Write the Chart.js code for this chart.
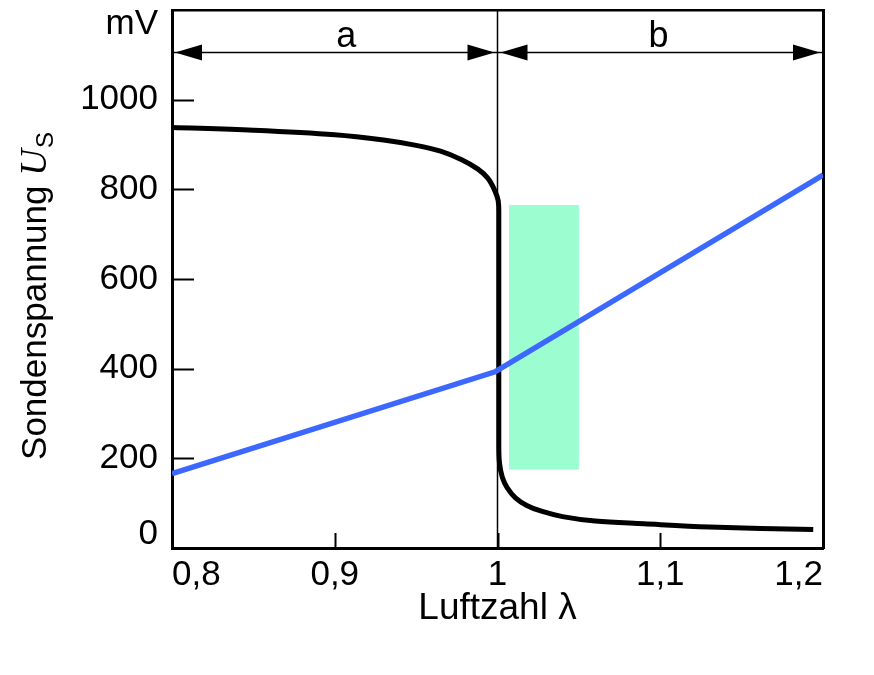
<!DOCTYPE html>
<html lang="de">
<head>
    <meta charset="utf-8" />
    <title>Lambda-Sonde</title>
    <style>
        html, body { margin: 0; padding: 0; background: #fff; }
        #chartBox { width: 874px; height: 675px; }
    </style>
</head>
<body>
    <div id="chartBox">
        <canvas id="lambdaChart" width="874" height="675"></canvas>
    </div>
    <script src="https://cdn.jsdelivr.net/npm/chart.js"></script>
    <script>
        // Luftzahl lambda (x) and Sondenspannung in mV (y)
        var sprungX = [0.8, 0.85, 0.9, 0.93, 0.95, 0.965, 0.978, 0.988, 0.994, 0.998, 1.0004, 1.0008, 1.0008, 1.0012, 1.003, 1.006, 1.011, 1.018, 1.027, 1.04, 1.06, 1.09, 1.13, 1.194];
        var sprungY = [938, 932, 922, 910, 898, 885, 866, 845, 825, 800, 775, 740, 230, 190, 157, 134, 112, 95, 82, 70, 60, 54, 47, 41];

        var planarX = [0.8, 0.9985, 1.2];
        var planarY = [166, 393, 832];

        // green band and the a/b ranges
        var bandX = [1.007, 1.05];
        var bandY = [175, 765];
        var rangeA = [0.8, 1.0];
        var rangeB = [1.0, 1.2];
        var rangeLevel = 1105;
        var rangeLabels = ['a', 'b'];
        var rangeLabelX = [0.907, 1.099];

        var xTicks = [0.8, 0.9, 1.0, 1.1, 1.2];
        var xTickLabels = ['0,8', '0,9', '1', '1,1', '1,2'];
        var yTicks = [0, 200, 400, 600, 800, 1000, 1200];
        var yTickLabels = ['0', '200', '400', '600', '800', '1000', 'mV'];

        function pts(xs, ys) {
            return xs.map(function (x, i) { return { x: x, y: ys[i] }; });
        }

        var sans = "'Liberation Sans', Arial, sans-serif";
        var tickFont = { family: sans, size: 35, lineHeight: '28px' };

        // inward tick marks, arrows, range letters, y title
        var decorPlugin = {
            id: 'decor',
            afterDatasetsDraw: function (chart) {
                var ctx = chart.ctx;
                var xs = chart.scales.x, ys = chart.scales.y;
                var area = chart.chartArea;
                ctx.save();
                ctx.strokeStyle = '#000';
                ctx.lineWidth = 2;
                yTicks.slice(1, -1).forEach(function (v) {
                    var py = Math.round(ys.getPixelForValue(v)) + 0.5;
                    ctx.beginPath();
                    ctx.moveTo(area.left, py);
                    ctx.lineTo(area.left + 22, py);
                    ctx.stroke();
                });
                xTicks.slice(1, -1).forEach(function (v) {
                    var px = Math.round(xs.getPixelForValue(v)) + 0.5;
                    ctx.beginPath();
                    ctx.moveTo(px, area.bottom);
                    ctx.lineTo(px, area.bottom - 15);
                    ctx.stroke();
                });

                // arrow heads
                var ay = ys.getPixelForValue(rangeLevel);
                function head(tipX, dir) {
                    ctx.beginPath();
                    ctx.moveTo(tipX, ay);
                    ctx.lineTo(tipX - dir * 27, ay - 8);
                    ctx.lineTo(tipX - dir * 27, ay + 8);
                    ctx.closePath();
                    ctx.fill();
                }
                ctx.fillStyle = '#000';
                [rangeA, rangeB].forEach(function (r) {
                    head(xs.getPixelForValue(r[0]) + 3, -1);
                    head(xs.getPixelForValue(r[1]) - 3, 1);
                });

                ctx.font = '36px ' + sans;
                ctx.textAlign = 'center';
                ctx.textBaseline = 'alphabetic';
                rangeLabels.forEach(function (t, i) {
                    ctx.fillText(t, xs.getPixelForValue(rangeLabelX[i]), ay - 6);
                });

                // y axis title with italic U and subscript S
                var mainFont = '35px ' + sans;
                var uFont = "italic 37px 'Liberation Serif', 'Times New Roman', serif";
                var subFont = '24px ' + sans;
                ctx.font = mainFont;
                var w1 = ctx.measureText('Sondenspannung ').width;
                ctx.font = uFont;
                var w2 = ctx.measureText('U').width;
                ctx.font = subFont;
                var w3 = ctx.measureText('S').width;
                var total = w1 + w2 + w3 + 1;
                ctx.translate(46, 296);
                ctx.rotate(-Math.PI / 2);
                ctx.textAlign = 'left';
                var sx = -total / 2;
                ctx.font = mainFont;
                ctx.fillText('Sondenspannung ', sx, 0);
                ctx.font = uFont;
                ctx.fillText('U', sx + w1, 0);
                ctx.font = subFont;
                ctx.fillText('S', sx + w1 + w2 + 1, 7);
                ctx.restore();
            }
        };

        function noEdgePad(s) {
            s.paddingLeft = 0;
            s.paddingRight = 0;
            s.paddingTop = 0;
            s.paddingBottom = 0;
        }

        var ctx = document.getElementById('lambdaChart').getContext('2d');
        var chart = new Chart(ctx, {
            type: 'scatter',
            data: {
                datasets: [
                    {
                        label: 'Band oben',
                        data: pts(bandX, [bandY[1], bandY[1]]),
                        showLine: true,
                        borderWidth: 0,
                        borderColor: 'rgba(0,0,0,0)',
                        backgroundColor: '#9bfdd0',
                        pointRadius: 0,
                        fill: '+1',
                        order: 5
                    },
                    {
                        label: 'Band unten',
                        data: pts(bandX, [bandY[0], bandY[0]]),
                        showLine: true,
                        borderWidth: 0,
                        borderColor: 'rgba(0,0,0,0)',
                        pointRadius: 0,
                        fill: false,
                        order: 5
                    },
                    {
                        label: 'lambda = 1',
                        data: [{ x: 1, y: 0 }, { x: 1, y: 1200 }],
                        showLine: true,
                        borderColor: '#000',
                        borderWidth: 1.5,
                        pointRadius: 0,
                        order: 4
                    },
                    {
                        label: 'Bereich',
                        data: [{ x: rangeA[0], y: rangeLevel }, { x: rangeB[1], y: rangeLevel }],
                        showLine: true,
                        borderColor: '#000',
                        borderWidth: 1.5,
                        pointRadius: 0,
                        order: 4
                    },
                    {
                        label: 'Sprungsonde',
                        data: pts(sprungX, sprungY),
                        showLine: true,
                        borderColor: '#000',
                        borderWidth: 5,
                        tension: 0.35,
                        pointRadius: 0,
                        order: 2
                    },
                    {
                        label: 'Planarsonde',
                        data: pts(planarX, planarY),
                        showLine: true,
                        borderColor: '#3d68ff',
                        borderWidth: 5.5,
                        pointRadius: 0,
                        order: 1
                    }
                ]
            },
            options: {
                responsive: false,
                animation: false,
                devicePixelRatio: 1,
                layout: { padding: 0 },
                plugins: {
                    legend: { display: false },
                    tooltip: { enabled: false }
                },
                scales: {
                    x: {
                        type: 'linear',
                        position: 'bottom',
                        min: 0.8,
                        max: 1.2,
                        afterBuildTicks: function (s) { s.ticks = xTicks.map(function (v) { return { value: v }; }); },
                        afterFit: function (s) { s.height = 127; noEdgePad(s); },
                        grid: { drawOnChartArea: false, drawTicks: false },
                        border: { display: true, color: '#000', width: 3 },
                        ticks: {
                            autoSkip: false,
                            maxRotation: 0,
                            padding: 13,
                            color: '#000',
                            font: tickFont,
                            callback: function (v, i) {
                                var t = xTickLabels[i];
                                if (i === 0) return '     ' + t;
                                if (i === xTickLabels.length - 1) return t + '     ';
                                return t;
                            }
                        },
                        title: {
                            display: true,
                            text: 'Luftzahl λ',
                            color: '#000',
                            font: { family: sans, size: 37, lineHeight: 1.2 },
                            padding: { top: 0, bottom: 44 }
                        }
                    },
                    xTop: {
                        type: 'linear',
                        position: 'top',
                        min: 0.8,
                        max: 1.2,
                        afterFit: function (s) { s.height = 10; noEdgePad(s); },
                        grid: { drawOnChartArea: false, drawTicks: false },
                        border: { display: true, color: '#000', width: 2.5 },
                        ticks: { display: false }
                    },
                    y: {
                        type: 'linear',
                        position: 'left',
                        min: 0,
                        max: 1200,
                        afterBuildTicks: function (s) { s.ticks = yTicks.map(function (v) { return { value: v }; }); },
                        afterFit: function (s) { s.width = 172; noEdgePad(s); },
                        grid: { drawOnChartArea: false, drawTicks: false },
                        border: { display: true, color: '#000', width: 3 },
                        ticks: {
                            autoSkip: false,
                            padding: 14,
                            color: '#000',
                            font: tickFont,
                            callback: function (v, i) {
                                var t = yTickLabels[i];
                                if (i === 0) return [t, ''];
                                if (i === yTickLabels.length - 1) return ['', t];
                                return t;
                            }
                        }
                    },
                    yRight: {
                        type: 'linear',
                        position: 'right',
                        min: 0,
                        max: 1200,
                        afterFit: function (s) { s.width = 51; noEdgePad(s); },
                        grid: { drawOnChartArea: false, drawTicks: false },
                        border: { display: true, color: '#000', width: 3 },
                        ticks: { display: false }
                    }
                }
            },
            plugins: [decorPlugin]
        });
    </script>
</body>
</html>
